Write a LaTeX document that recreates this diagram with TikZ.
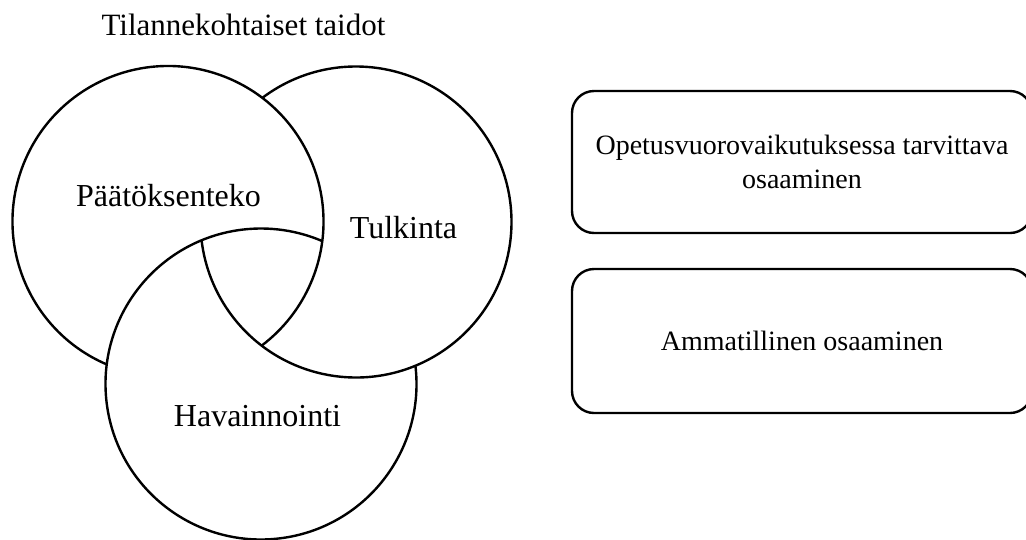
\documentclass[tikz,border=0pt]{standalone}
\usepackage{fontspec}
\setmainfont{Liberation Serif}
\begin{document}
\begin{tikzpicture}[x=1pt,y=-1pt,
  ring/.style={line width=2.4pt},
  lbl/.style={font=\fontsize{32}{38}\selectfont, anchor=base, inner sep=0pt},
  boxnode/.style={draw, line width=2.4pt, rounded corners=22pt, minimum width=460pt,
    align=center, inner sep=0pt, font=\fontsize{28}{34}\selectfont}]
\useasboundingbox (0,0) rectangle (1026,539);
\clip (0,0) rectangle (1026,539);
% circle centres
\coordinate (cA) at (168,221.5);
\coordinate (cB) at (356,222);
\coordinate (cC) at (261,384);
% interlocking circles (each drawn with the part hidden under the next one left out)
\draw[ring] ([shift={(113.2:155.5)}]cA) arc[start angle=113.2, end angle=412.9, radius=155.5];
\draw[ring] ([shift={(232.9:155.5)}]cB) arc[start angle=232.9, end angle=533.2, radius=155.5];
\draw[ring] ([shift={(353.2:155.5)}]cC) arc[start angle=353.2, end angle=653.2, radius=155.5];
% labels
\node[lbl, font=\fontsize{31}{37}\selectfont] (title) at (243.5,35) {Tilannekohtaiset taidot};
\node[lbl] (lPaat) at (168.5,206.7) {Päätöksenteko};
\node[lbl] (lTulk) at (403.5,238) {Tulkinta};
\node[lbl] (lHav) at (257.5,426.7) {Havainnointi};
% boxes
\node[boxnode, minimum height=142pt] (box1) at (802,162) {Opetusvuorovaikutuksessa tarvittava\\osaaminen};
\node[boxnode, minimum height=144pt] (box2) at (802,341) {Ammatillinen osaaminen};
\end{tikzpicture}
\end{document}
